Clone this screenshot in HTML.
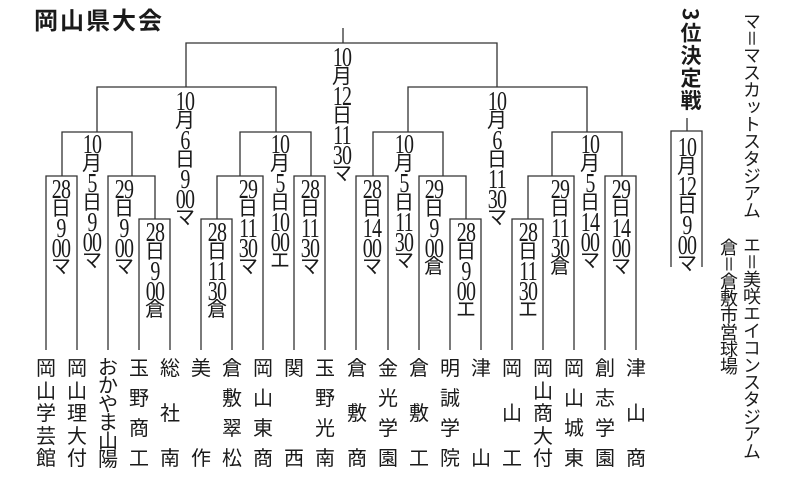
<!DOCTYPE html>
<html><head><meta charset="utf-8">
<style>
html,body{margin:0;padding:0;background:#fff;}
#w{position:relative;width:800px;height:477px;overflow:hidden;background:#fff;color:#1a1a1a;font-family:"Liberation Serif","Noto Sans CJK JP",sans-serif;}
.c{position:absolute;width:34px;text-align:center;font-size:20px;line-height:19.5px;font-family:"Liberation Serif","Noto Sans CJK JP",serif;}
.c span{display:block;height:19.5px;overflow:visible;}
.d{font-size:27px;line-height:19.5px;letter-spacing:-1px;transform:scaleX(0.74);}
.t{position:absolute;width:26px;top:357px;height:110px;display:flex;flex-direction:column;justify-content:space-between;align-items:center;font-family:"Noto Sans CJK JP",sans-serif;font-size:20px;line-height:20px;}
.v{position:absolute;writing-mode:vertical-rl;font-family:"Noto Sans CJK JP",sans-serif;white-space:nowrap;}
svg{position:absolute;left:0;top:0;}
</style></head><body><div id="w">
<div style="position:absolute;left:34px;top:4px;font-family:'Noto Sans CJK JP',sans-serif;font-weight:bold;font-size:24px;letter-spacing:2px;line-height:30px;">岡山県大会</div>

<svg width="800" height="477" viewBox="0 0 800 477" fill="none" stroke="#333" stroke-width="1.3">
<path d="M343 28V43M186 87V43H497V87"/>
<path d="M97 132V87H276V132"/>
<path d="M62 176V132H132V176"/>
<path d="M240 176V132H311V176"/>
<path d="M408 132V87H587V132"/>
<path d="M373 176V132H443V176"/>
<path d="M552 176V132H622V176"/>
<path d="M46 350V176H77V350"/>
<path d="M108 350V176H155V219"/>
<path d="M139 350V219H170V350"/>
<path d="M201 350V219H232V350"/>
<path d="M217 219V176H263V350"/>
<path d="M294 350V176H325V350"/>
<path d="M356 350V176H388V350"/>
<path d="M419 350V176H466V219"/>
<path d="M450 350V219H481V350"/>
<path d="M512 350V219H543V350"/>
<path d="M528 219V176H574V350"/>
<path d="M605 350V176H636V350"/>
<path d="M687 118V131M671 267V131H702V267"/>
</svg>

<!-- final -->
<div class="c" style="left:325px;top:48px"><span class="d">10</span><span>月</span><span class="d">12</span><span>日</span><span class="d">11</span><span class="d">30</span><span>マ</span></div>
<!-- QF -->
<div class="c" style="left:168px;top:92px"><span class="d">10</span><span>月</span><span class="d">6</span><span>日</span><span class="d">9</span><span class="d">00</span><span>マ</span></div>
<div class="c" style="left:480px;top:92px"><span class="d">10</span><span>月</span><span class="d">6</span><span>日</span><span class="d">11</span><span class="d">30</span><span>マ</span></div>
<!-- R2 -->
<div class="c" style="left:75px;top:135px"><span class="d">10</span><span>月</span><span class="d">5</span><span>日</span><span class="d">9</span><span class="d">00</span><span>マ</span></div>
<div class="c" style="left:263px;top:135px"><span class="d">10</span><span>月</span><span class="d">5</span><span>日</span><span class="d">10</span><span class="d">00</span><span>エ</span></div>
<div class="c" style="left:387px;top:135px"><span class="d">10</span><span>月</span><span class="d">5</span><span>日</span><span class="d">11</span><span class="d">30</span><span>マ</span></div>
<div class="c" style="left:573px;top:135px"><span class="d">10</span><span>月</span><span class="d">5</span><span>日</span><span class="d">14</span><span class="d">00</span><span>マ</span></div>
<!-- R1 boxes -->
<div class="c" style="left:44px;top:180px"><span class="d">28</span><span>日</span><span class="d">9</span><span class="d">00</span><span>マ</span></div>
<div class="c" style="left:107px;top:180px"><span class="d">29</span><span>日</span><span class="d">9</span><span class="d">00</span><span>マ</span></div>
<div class="c" style="left:138px;top:223px"><span class="d">28</span><span>日</span><span class="d">9</span><span class="d">00</span><span>倉</span></div>
<div class="c" style="left:200px;top:223px"><span class="d">28</span><span>日</span><span class="d">11</span><span class="d">30</span><span>倉</span></div>
<div class="c" style="left:231px;top:180px"><span class="d">29</span><span>日</span><span class="d">11</span><span class="d">30</span><span>マ</span></div>
<div class="c" style="left:293px;top:180px"><span class="d">28</span><span>日</span><span class="d">11</span><span class="d">30</span><span>マ</span></div>
<div class="c" style="left:355px;top:180px"><span class="d">28</span><span>日</span><span class="d">14</span><span class="d">00</span><span>マ</span></div>
<div class="c" style="left:417px;top:180px"><span class="d">29</span><span>日</span><span class="d">9</span><span class="d">00</span><span>倉</span></div>
<div class="c" style="left:449px;top:223px"><span class="d">28</span><span>日</span><span class="d">9</span><span class="d">00</span><span>エ</span></div>
<div class="c" style="left:511px;top:223px"><span class="d">28</span><span>日</span><span class="d">11</span><span class="d">30</span><span>エ</span></div>
<div class="c" style="left:543px;top:180px"><span class="d">29</span><span>日</span><span class="d">11</span><span class="d">30</span><span>倉</span></div>
<div class="c" style="left:604px;top:180px"><span class="d">29</span><span>日</span><span class="d">14</span><span class="d">00</span><span>マ</span></div>
<!-- 3rd place -->
<div class="v" style="left:676px;top:8px;font-size:21px;font-weight:bold;letter-spacing:1.5px;">3位決定戦</div>
<div class="c" style="left:670px;top:138px"><span class="d">10</span><span>月</span><span class="d">12</span><span>日</span><span class="d">9</span><span class="d">00</span><span>マ</span></div>
<!-- legend -->
<div class="v" style="left:739px;top:12px;font-size:18px;letter-spacing:-0.8px;">マ＝マスカットスタジアム　エ＝美咲エイコンスタジアム</div>
<div class="v" style="left:716px;top:238px;font-size:18px;letter-spacing:-1px;">倉＝倉敷市営球場</div>

<!-- teams -->
<div class="t" style="left:33px"><span>岡</span><span>山</span><span>学</span><span>芸</span><span>館</span></div>
<div class="t" style="left:64px"><span>岡</span><span>山</span><span>理</span><span>大</span><span>付</span></div>
<div class="t" style="left:95px;line-height:18px"><span>お</span><span>か</span><span>や</span><span>ま</span><span>山</span><span>陽</span></div>
<div class="t" style="left:126px"><span>玉</span><span>野</span><span>商</span><span>工</span></div>
<div class="t" style="left:157px"><span>総</span><span>社</span><span>南</span></div>
<div class="t" style="left:188px"><span>美</span><span>作</span></div>
<div class="t" style="left:219px"><span>倉</span><span>敷</span><span>翠</span><span>松</span></div>
<div class="t" style="left:250px"><span>岡</span><span>山</span><span>東</span><span>商</span></div>
<div class="t" style="left:281px"><span>関</span><span>西</span></div>
<div class="t" style="left:312px"><span>玉</span><span>野</span><span>光</span><span>南</span></div>
<div class="t" style="left:344px"><span>倉</span><span>敷</span><span>商</span></div>
<div class="t" style="left:375px"><span>金</span><span>光</span><span>学</span><span>園</span></div>
<div class="t" style="left:406px"><span>倉</span><span>敷</span><span>工</span></div>
<div class="t" style="left:437px"><span>明</span><span>誠</span><span>学</span><span>院</span></div>
<div class="t" style="left:468px"><span>津</span><span>山</span></div>
<div class="t" style="left:499px"><span>岡</span><span>山</span><span>工</span></div>
<div class="t" style="left:530px"><span>岡</span><span>山</span><span>商</span><span>大</span><span>付</span></div>
<div class="t" style="left:561px"><span>岡</span><span>山</span><span>城</span><span>東</span></div>
<div class="t" style="left:592px"><span>創</span><span>志</span><span>学</span><span>園</span></div>
<div class="t" style="left:623px"><span>津</span><span>山</span><span>商</span></div>
</div></body></html>
